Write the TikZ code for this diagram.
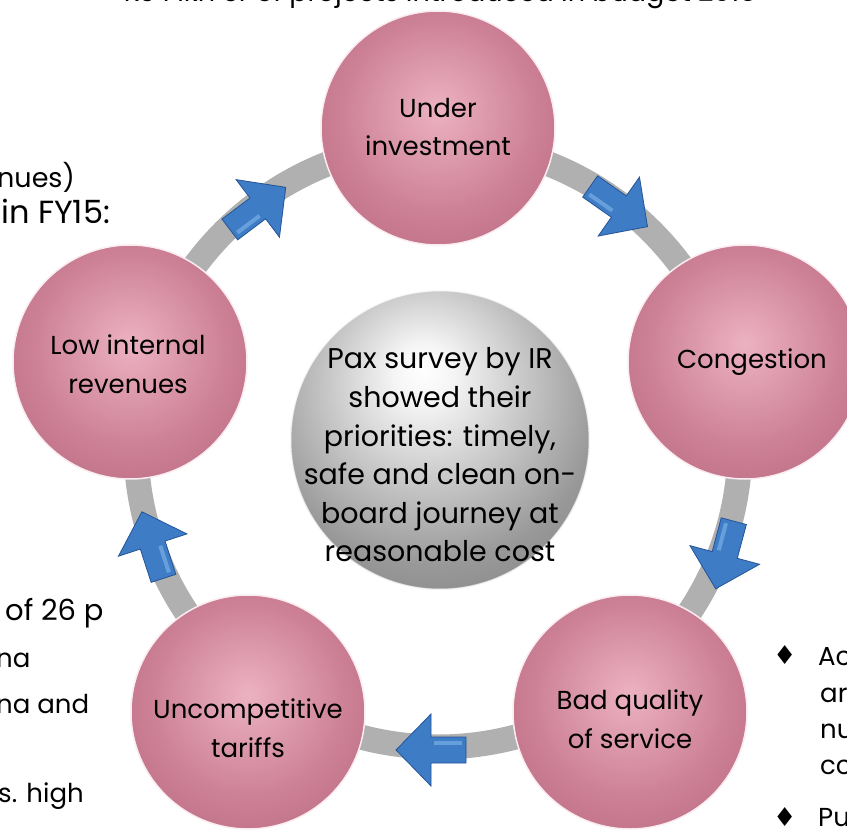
\documentclass[tikz,border=0pt]{standalone}
\usepackage{fontspec}
\setmainfont{Poppins}
\newfontfamily\symf{DejaVu Sans}
\definecolor{pinkin}{RGB}{236,178,194}
\definecolor{pinkmid}{RGB}{206,130,152}
\definecolor{pinkout}{RGB}{164,84,106}
\definecolor{ringgray}{RGB}{176,176,176}
\definecolor{arrowblue}{RGB}{62,124,198}
\definecolor{arrowdark}{RGB}{36,84,150}
\definecolor{arrowlight}{RGB}{120,175,230}
\pgfdeclareradialshading{pinkball}{\pgfpoint{0bp}{4bp}}{color(0bp)=(pinkin); color(20bp)=(pinkmid); color(48bp)=(pinkout); color(60bp)=(pinkout)}
\pgfdeclareradialshading{greyball}{\pgfpoint{-3bp}{12bp}}{color(0bp)=(white); color(5bp)=(white!96!black); color(28bp)=(black!40); color(50bp)=(black!60); color(70bp)=(black!62)}
\tikzset{
  ball/.style={circle, minimum size=234, inner sep=0, shading=pinkball, draw=white!75!pinkin, line width=1.5},
  core/.style={circle, minimum size=300, inner sep=0, shading=greyball},
  lbl/.style={align=center, font=\fontsize{26}{38.5}\selectfont, inner sep=0, text=black},
  corelbl/.style={align=center, font=\fontsize{28.5}{38.6}\selectfont, inner sep=0, text=black},
  side/.style={anchor=base west, inner sep=0, font=\fontsize{26}{30}\selectfont},
  bigside/.style={anchor=base west, inner sep=0, font=\fontsize{32}{34}\selectfont},
  bullet/.style={anchor=base west, inner sep=0, font=\symf\fontsize{26}{28}\selectfont},
  ringline/.style={draw=ringgray, line width=25},
  blk/.style={fill=arrowblue, draw=arrowdark, line width=0.8, line join=miter},
}
\newcommand{\blkarrow}[3]{%
  \begin{scope}[shift={(#1,#2)},rotate=#3]
    \path[blk] (36,0) -- (1,-36) -- (1,-13) -- (-34,-13) -- (-34,13) -- (1,13) -- (1,36) -- cycle;
    \fill[arrowlight, opacity=0.7] (-30,5) -- (-2,5) -- (-2,9) -- (-30,9) -- cycle;
  \end{scope}}
\begin{document}
\begin{tikzpicture}[x=1pt,y=-1pt]
\useasboundingbox (0,0) rectangle (847,832);
\clip (0,0) rectangle (847,832);
\fill[white] (0,0) rectangle (847,832);
% top cut text
\node[anchor=base, inner sep=0, font=\fontsize{27}{30}\selectfont] (toptext) at (440,2) {Rs 1 lkh cr of projects introduced in budget 2015};
% ring
\coordinate (ctr) at (438,445);
\draw[ringline] (ctr) circle[radius=302];
% circles
\node[ball] (ui) at (438,128) {};
\node[ball] (cg) at (745,362) {};
\node[ball] (bq) at (630,712) {};
\node[ball] (ut) at (248,712) {};
\node[ball] (lr) at (130,362) {};
\node[core] (core) at (440,440) {};
\draw[white, line width=5, opacity=0.45] (core.center) circle[radius=151];
\draw[white, line width=2, opacity=0.8] (core.center) circle[radius=150];
% labels
\node[lbl] (uil) at (438,127) {Under\\investment};
\node[lbl] (cgl) at (752,362) {Congestion};
\node[lbl] (bql) at (630,719) {Bad quality\\of service};
\node[lbl] (utl) at (248,728) {Uncompetitive\\tariffs};
\node[lbl] (lrl) at (128,364) {Low internal\\revenues};
\node[corelbl] (corel) at (440,455) {Pax survey by IR\\showed their\\priorities: timely,\\safe and clean on-\\board journey at\\reasonable cost};
% arrows
\blkarrow{257}{209}{37}
\blkarrow{618}{206}{-35}
\blkarrow{725}{554}{-105}
\blkarrow{432}{750}{180}
\blkarrow{153}{546}{108}
% side texts left
\node[side, font=\fontsize{27}{30}\selectfont] (l1) at (-3,188) {nues)};
\node[bigside] (l2) at (1,224) {in FY15:};
\node[side, font=\fontsize{29}{30}\selectfont] (l3) at (5,620) {of 26 p};
\node[side] (l4) at (-4,667) {na};
\node[side] (l5) at (-4,713) {na and};
\node[side] (l6) at (-2,802) {s. high};
% side texts right
\node[bullet] (b1) at (773,664) {♦};
\node[side] (r1) at (818,665) {Ac};
\node[side] (r2) at (820,702) {ar};
\node[side] (r3) at (820,738) {nu};
\node[side] (r4) at (820,774) {cc};
\node[bullet] (b2) at (773,826) {♦};
\node[side] (r5) at (818,826) {Pu};
\end{tikzpicture}
\end{document}
